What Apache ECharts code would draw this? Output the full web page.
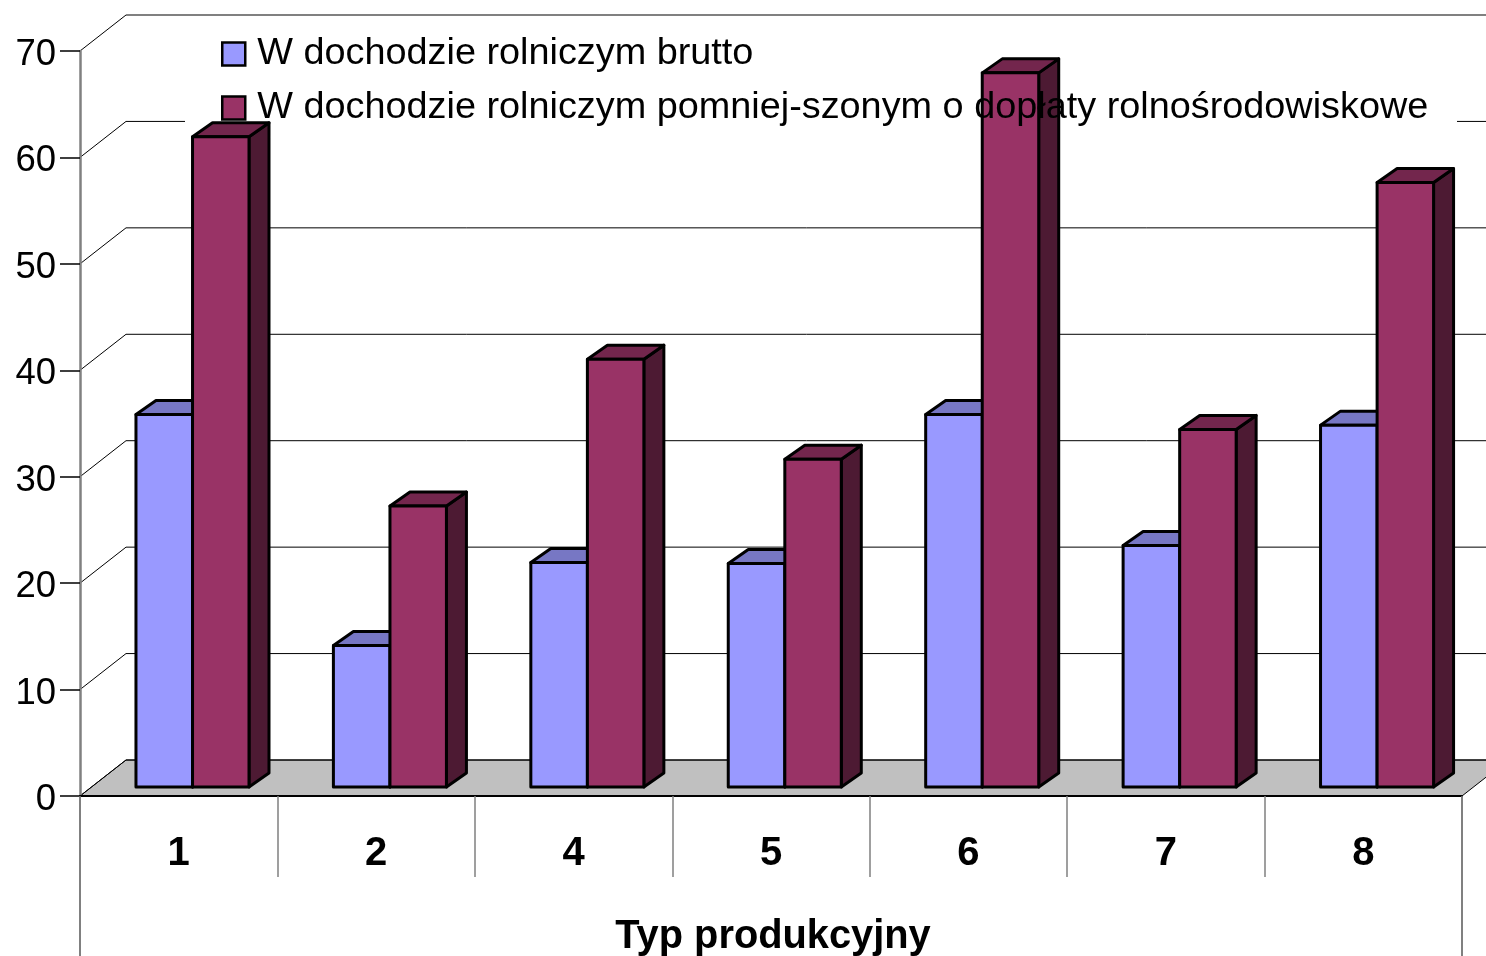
<!DOCTYPE html>
<html>
<head>
<meta charset="utf-8">
<style>html,body{margin:0;padding:0;background:#fff}#c{width:1486px;height:956px}</style>
<script src="https://cdn.jsdelivr.net/npm/echarts@6/dist/echarts.min.js"></script>
</head>
<body>
<div id="c"></div>
<script>
const categories = ['1', '2', '4', '5', '6', '7', '8'];
const brutto = [35, 13.3, 21.1, 21, 35, 22.7, 34];
const pomniejszony = [61.1, 26.4, 40.2, 30.8, 67.1, 33.6, 56.8];
const yTicks = [0, 10, 20, 30, 40, 50, 60, 70];
const seriesNames = ['W dochodzie rolniczym brutto', 'W dochodzie rolniczym pomniej-szonym o dopłaty rolnośrodowiskowe'];
const xTitle = 'Typ produkcyjny';

const FONT = '"Liberation Sans", Arial, sans-serif';
const WALL_DX = 46, WALL_DY = 36;
const BAR_DX = 20, BAR_DY = 14, BASE_LIFT = 9;

function poly(points, fill, lw) {
  return { type: 'polygon', shape: { points }, style: { fill, stroke: '#000', lineWidth: lw, lineJoin: 'round' }, silent: true };
}
function seg(x1, y1, x2, y2, stroke, lw) {
  return { type: 'line', shape: { x1, y1, x2, y2 }, style: { stroke, lineWidth: lw }, silent: true };
}

function barRenderer(offsetFrom, offsetTo, front, top, side) {
  return function (params, api) {
    const c = api.coord([api.value(0), api.value(1)]);
    const c0 = api.coord([api.value(0), 0]);
    const band = api.size([1, 0])[0];
    const l = c[0] + offsetFrom * band, r = c[0] + offsetTo * band;
    const t = c[1] - BASE_LIFT, b = c0[1] - BASE_LIFT;
    return {
      type: 'group',
      children: [
        poly([[r, t], [r + BAR_DX, t - BAR_DY], [r + BAR_DX, b - BAR_DY], [r, b]], side, 3),
        poly([[l, t], [l + BAR_DX, t - BAR_DY], [r + BAR_DX, t - BAR_DY], [r, t]], top, 3),
        poly([[l, t], [r, t], [r, b], [l, b]], front, 3)
      ]
    };
  };
}

function wallRenderer(params, api) {
  const cs = params.coordSys;
  const y = api.coord([0, api.value(1)])[1];
  const v = api.value(1);
  const x0 = cs.x, x1 = cs.x + cs.width;
  const kids = [];
  if (v === 0) {
    kids.push({
      type: 'polygon',
      shape: { points: [[x0, y], [x0 + WALL_DX, y - WALL_DY], [x1 + WALL_DX, y - WALL_DY], [x1, y]] },
      style: { fill: '#C0C0C0', stroke: '#000', lineWidth: 1 }, silent: true
    });
    kids.push(seg(x0, y, x0, 956, '#808080', 2));
    kids.push(seg(x1, y, x1, 956, '#808080', 2));
  }
  const top = v === 70;
  kids.push(seg(x0, y, x0 + WALL_DX, y - WALL_DY, '#000', 1));
  kids.push(seg(x0 + WALL_DX, y - WALL_DY, x1 + WALL_DX, y - WALL_DY, top ? '#808080' : '#000', top ? 2 : 1));
  return { type: 'group', children: kids };
}

const chart = echarts.init(document.getElementById('c'), null, { renderer: 'canvas' });
chart.setOption({
  animation: false,
  backgroundColor: '#fff',
  textStyle: { fontFamily: FONT },
  grid: { left: 80, top: 51, width: 1382, height: 745, containLabel: false, outerBoundsMode: 'none' },
  xAxis: {
    type: 'category',
    data: categories,
    z: 4,
    boundaryGap: true,
    axisLine: { show: true, lineStyle: { color: '#000', width: 2 } },
    axisTick: { show: true, length: 81, lineStyle: { color: '#808080', width: 1.5 } },
    axisLabel: { show: true, interval: 0, color: '#000', fontFamily: FONT, fontSize: 40, fontWeight: 'bold', margin: 38 },
    name: xTitle,
    nameLocation: 'middle',
    nameGap: 121,
    nameTextStyle: { color: '#000', fontFamily: FONT, fontSize: 39.8, fontWeight: 'bold', padding: [0, 0, 0, 4] }
  },
  yAxis: {
    type: 'value',
    min: 0, max: 70, interval: 10,
    z: 4,
    splitLine: { show: false },
    axisLine: { show: true, lineStyle: { color: '#808080', width: 2.5 } },
    axisTick: { show: true, length: 20, lineStyle: { color: '#000', width: 1.5 } },
    axisLabel: { color: '#000', fontFamily: FONT, fontSize: 36.5, margin: 24, verticalAlign: 'top', lineHeight: 8 }
  },
  legend: {
    show: true,
    z: 6,
    left: 216, top: 25.5,
    orient: 'vertical',
    itemWidth: 23, itemHeight: 23,
    itemGap: 7,
    selectedMode: false,
    icon: 'rect',
    itemStyle: { borderColor: '#000', borderWidth: 2.5 },
    textStyle: { color: '#000', fontFamily: FONT, fontSize: 37.85, lineHeight: 42, padding: [5, 0, 0, 7] },
    data: seriesNames
  },
  graphic: [{
    type: 'rect', z: 2, silent: true,
    shape: { x: 185, y: 30, width: 1272, height: 100 },
    style: { fill: '#fff' }
  }],
  series: [
    {
      type: 'custom', name: 'wall', z: 1, clip: false, silent: true,
      renderItem: wallRenderer,
      data: yTicks.map(v => [0, v])
    },
    {
      type: 'custom', name: seriesNames[0], z: 3, clip: false,
      itemStyle: { color: '#9999FF' },
      renderItem: barRenderer(-0.2165, 0.07, '#9999FF', '#7777C4', '#4D4D80'),
      data: brutto.map((v, i) => [i, v])
    },
    {
      type: 'custom', name: seriesNames[1], z: 3, clip: false,
      itemStyle: { color: '#993366' },
      renderItem: barRenderer(0.07, 0.356, '#993366', '#73264D', '#4D1A33'),
      data: pomniejszony.map((v, i) => [i, v])
    }
  ]
});
</script>
</body>
</html>
